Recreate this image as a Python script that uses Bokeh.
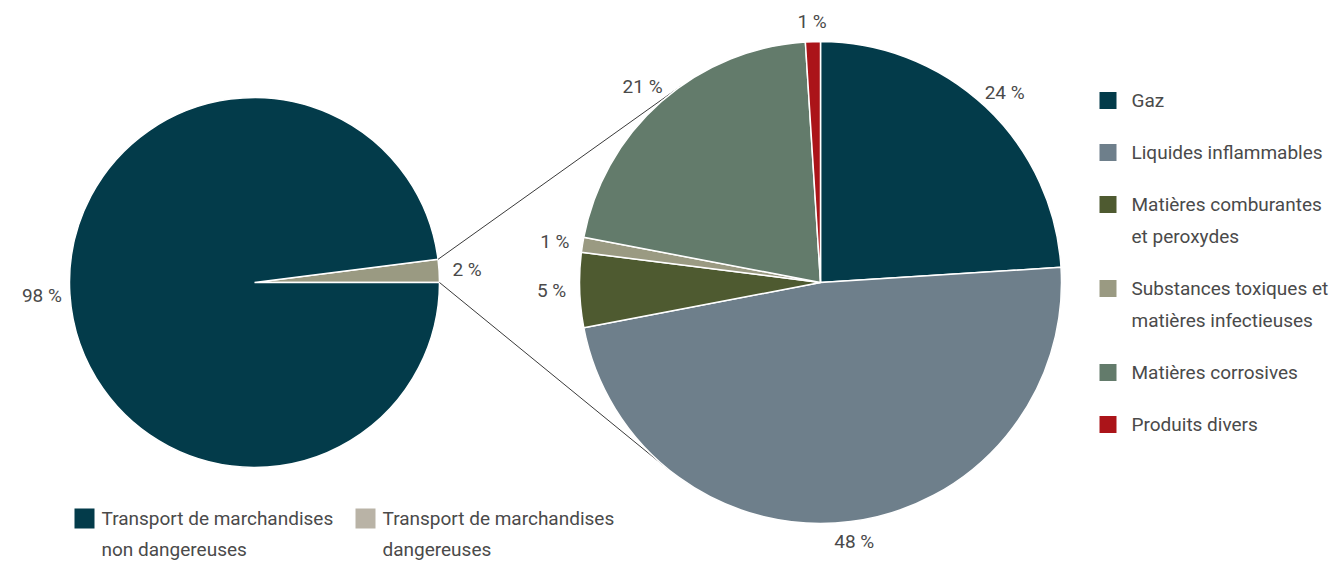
import math
from bokeh.plotting import figure
from bokeh.models import Range1d
from bokeh.embed import file_html
from bokeh.resources import INLINE
from bokeh.core.properties import value

# ---------------- data ----------------
overview_labels = ["Transport de marchandises non dangereuses", "Transport de marchandises dangereuses"]
overview_values = [98, 2]
overview_colors = ["#033b4a", "#9a9a82"]
overview_legend_colors = ["#033b4a", "#b9b3a6"]
overview_legend_lines = [["Transport de marchandises", "non dangereuses"],
                         ["Transport de marchandises", "dangereuses"]]

detail_labels = ["Gaz", "Liquides inflammables", "Matières comburantes et peroxydes",
                 "Substances toxiques et matières infectieuses", "Matières corrosives", "Produits divers"]
detail_values = [24, 48, 5, 1, 21, 1]
detail_colors = ["#033b4a", "#6e7f8b", "#4e5a30", "#9a9a82", "#637b6b", "#ab1419"]
detail_legend_lines = [["Gaz"], ["Liquides inflammables"], ["Matières comburantes", "et peroxydes"],
                       ["Substances toxiques et", "matières infectieuses"], ["Matières corrosives"],
                       ["Produits divers"]]

# ---------------- layout ----------------
W, H = 1341, 561
FONT = value("'Liberation Sans Narrow', 'Roboto', sans-serif")
TXT = "#4a4a4a"
FS = "19px"

p = figure(width=W, height=H, x_range=Range1d(0, W), y_range=Range1d(0, H),
           min_border=0, toolbar_location=None, output_backend="svg",
           x_axis_type=None, y_axis_type=None)
p.grid.visible = False
p.outline_line_color = None
p.background_fill_color = "white"

def sy(y):  # screen y -> data y
    return H - y

L_CX, L_CY, L_R = 254, sy(282), 185
R_CX, R_CY, R_R = 820, sy(282), 241


def label_pos(cx, cy, r, ang, hw=18, hh=10, gap=10):
    c, s = math.cos(ang), math.sin(ang)
    return cx + (r + gap) * c + hw * c, cy + (r + gap) * s + hh * s


# ---- left pie: small slice (dangerous) from 0 deg counterclockwise, then the rest
lx, ly, lt = [], [], []
start = 0.0
order = [1, 0]
l_slices = {}
for i in order:
    a0 = start
    a1 = start + overview_values[i] / 100 * 2 * math.pi
    l_slices[i] = (a0, a1)
    p.wedge(x=L_CX, y=L_CY, radius=L_R, start_angle=a0, end_angle=a1, direction="anticlock",
            fill_color=overview_colors[i], line_color="white", line_width=1.5)
    mid = (a0 + a1) / 2
    x, y = label_pos(L_CX, L_CY, L_R, mid)
    lx.append(x); ly.append(y); lt.append(f"{overview_values[i]} %")
    start = a1

# ---- right pie: from 12 o'clock clockwise
r_slices = []
start = math.pi / 2
for i, v in enumerate(detail_values):
    a_hi = start
    a_lo = start - v / 100 * 2 * math.pi
    r_slices.append((a_lo, a_hi))
    start = a_lo

# connector lines (tangent from small slice edges to right pie)
def tangent_point(px, py, upper):
    dx, dy = px - R_CX, py - R_CY
    d = math.hypot(dx, dy)
    base = math.atan2(dy, dx)
    phi = math.acos(R_R / d)
    a = base - phi if upper else base + phi
    return R_CX + R_R * math.cos(a), R_CY + R_R * math.sin(a)

a0, a1 = l_slices[1]
p_top = (L_CX + L_R * math.cos(a1), L_CY + L_R * math.sin(a1))
p_bot = (L_CX + L_R * math.cos(a0), L_CY + L_R * math.sin(a0))
t_top = tangent_point(*p_top, upper=True)
t_bot = tangent_point(*p_bot, upper=False)
p.segment(x0=[p_top[0], p_bot[0]], y0=[p_top[1], p_bot[1]],
          x1=[t_top[0], t_bot[0]], y1=[t_top[1], t_bot[1]],
          line_color="#3a3a3a", line_width=1)

for i, (a_lo, a_hi) in enumerate(r_slices):
    p.wedge(x=R_CX, y=R_CY, radius=R_R, start_angle=a_lo, end_angle=a_hi, direction="anticlock",
            fill_color=detail_colors[i], line_color="white", line_width=1.5)
    mid = (a_lo + a_hi) / 2
    x, y = label_pos(R_CX, R_CY, R_R, mid)
    lx.append(x); ly.append(y); lt.append(f"{detail_values[i]} %")

p.text(x=lx, y=ly, text=lt, text_font=FONT, text_font_size=FS, text_color=TXT,
       text_align="center", text_baseline="middle")

# ---- right legend
LEG_X, LEG_Y0, PITCH, LINE_H, SQ = 1099, 100, 52, 32, 17
sx, syy, tx, ty, tt = [], [], [], [], []
y = LEG_Y0
for i, lines in enumerate(detail_legend_lines):
    sx.append(LEG_X + SQ / 2); syy.append(sy(y))
    for k, line in enumerate(lines):
        tx.append(LEG_X + 32); ty.append(sy(y + k * LINE_H)); tt.append(line)
    y += PITCH + LINE_H * (len(lines) - 1)
p.rect(x=sx, y=syy, width=SQ, height=SQ, fill_color=detail_colors, line_color=None)

# ---- bottom legend
B_Y = 518
B_X = [74, 355]
bsx, bsy = [], []
for i, lines in enumerate(overview_legend_lines):
    bsx.append(B_X[i] + 10); bsy.append(sy(B_Y))
    for k, line in enumerate(lines):
        tx.append(B_X[i] + 27); ty.append(sy(B_Y + k * 31)); tt.append(line)
p.rect(x=bsx, y=bsy, width=20, height=20, fill_color=overview_legend_colors, line_color=None)

p.text(x=tx, y=ty, text=tt, text_font=FONT, text_font_size=FS, text_color=TXT,
       text_align="left", text_baseline="middle")

open("out.html", "w").write(file_html(p, INLINE))
